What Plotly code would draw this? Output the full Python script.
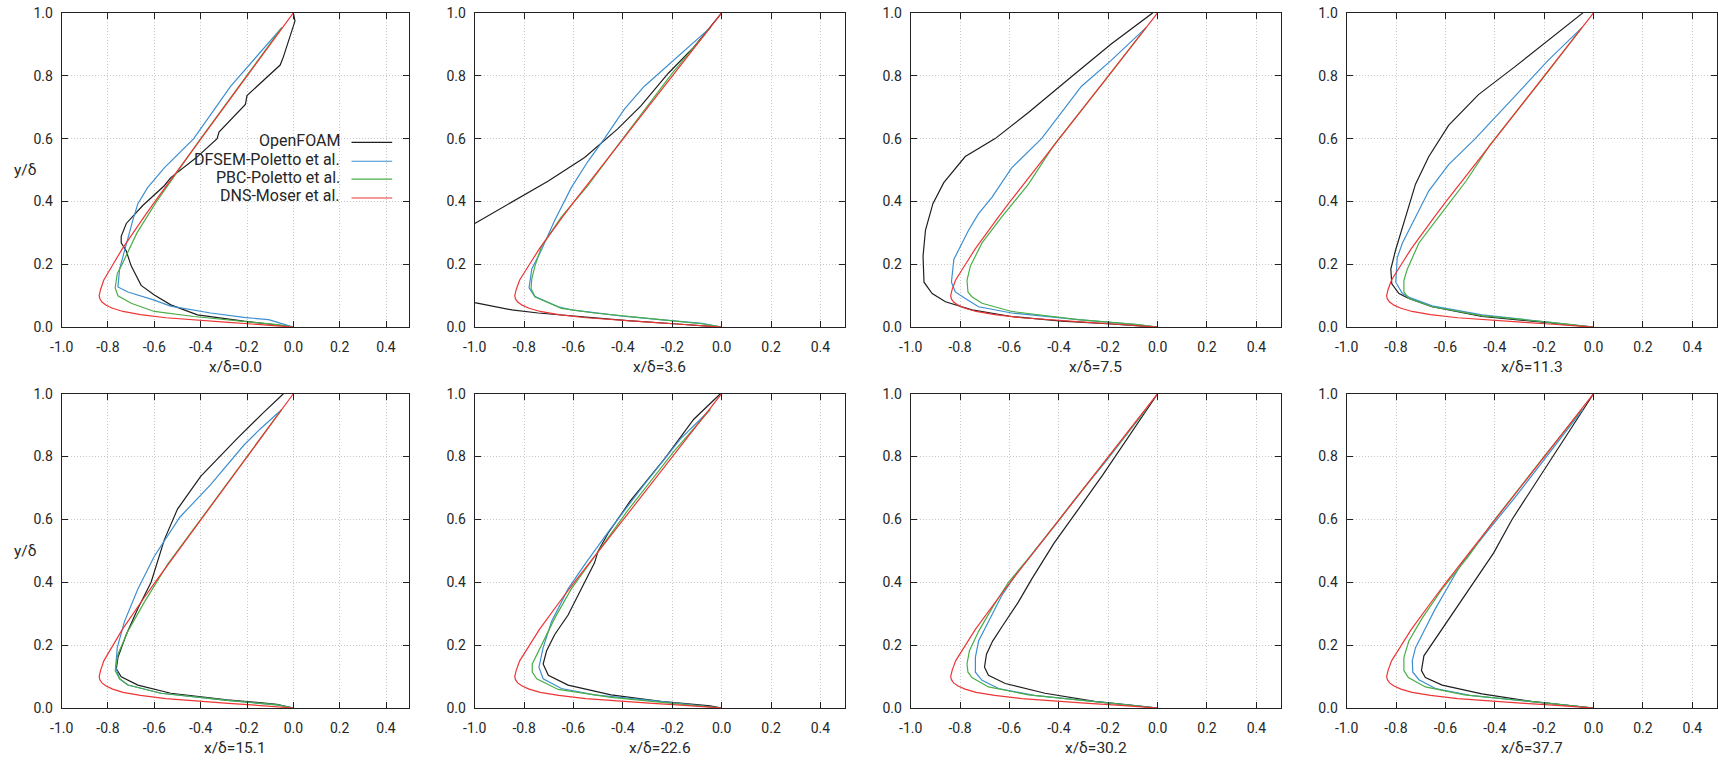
import plotly.graph_objects as go

# ---------------- data ----------------
stations = ["0.0", "3.6", "7.5", "11.3", "15.1", "22.6", "30.2", "37.7"]
series_names = ["OpenFOAM", "DFSEM-Poletto et al.", "PBC-Poletto et al.", "DNS-Moser et al."]
series_colors = ["#1f1f1f", "#3d8fd1", "#4aae46", "#ee3535"]

x_tickvals = [-1.0, -0.8, -0.6, -0.4, -0.2, 0.0, 0.2, 0.4]
x_ticktext = ["-1.0", "-0.8", "-0.6", "-0.4", "-0.2", "0.0", "0.2", "0.4"]
y_tickvals = [0.0, 0.2, 0.4, 0.6, 0.8, 1.0]
y_ticktext = ["0.0", "0.2", "0.4", "0.6", "0.8", "1.0"]

# DNS (same in every panel)
dns_y = [1.0, 0.9, 0.8, 0.7, 0.6, 0.5, 0.4, 0.35, 0.3, 0.25, 0.2, 0.15, 0.12, 0.1, 0.09, 0.08,
         0.07, 0.06, 0.05, 0.04, 0.03, 0.025, 0.02, 0.015, 0.01, 0.006, 0.003, 0.0]
dns_x = [0.0, -0.1, -0.2, -0.3, -0.4, -0.499, -0.597, -0.645, -0.692, -0.738, -0.778, -0.818, -0.832, -0.838, -0.835, -0.826,
         -0.808, -0.78, -0.735, -0.66, -0.55, -0.47, -0.38, -0.28, -0.18, -0.09, -0.03, 0.0]

# x/delta = 0.0
of_00_y = [1.0, 0.974, 0.86, 0.834, 0.737, 0.709, 0.621, 0.6, 0.538, 0.476, 0.45, 0.387, 0.33, 0.289, 0.268,
           0.242, 0.195, 0.164, 0.133, 0.102, 0.071, 0.039, 0.019, 0.003, 0.0]
of_00_x = [0.0, 0.007, -0.043, -0.057, -0.2, -0.207, -0.321, -0.329, -0.421, -0.529, -0.557, -0.65, -0.721, -0.743, -0.743,
           -0.721, -0.7, -0.679, -0.657, -0.6, -0.529, -0.414, -0.214, -0.02, 0.0]
df_00_y = [0.953, 0.766, 0.6, 0.507, 0.444, 0.393, 0.34, 0.268, 0.185, 0.128, 0.112, 0.086, 0.067, 0.045, 0.031, 0.024, 0.003, 0.0]
df_00_x = [-0.05, -0.271, -0.43, -0.557, -0.629, -0.671, -0.693, -0.721, -0.75, -0.757, -0.714, -0.6, -0.53, -0.357, -0.214, -0.107, -0.005, 0.0]
pb_00_y = [0.953, 0.8, 0.6, 0.4, 0.3, 0.205, 0.17, 0.125, 0.1, 0.076, 0.05, 0.034, 0.017, 0.008, 0.0]
pb_00_x = [-0.05, -0.2, -0.4, -0.59, -0.675, -0.736, -0.76, -0.769, -0.757, -0.7, -0.6, -0.43, -0.214, -0.07, 0.0]

# x/delta = 3.6
of_36_y = [1.0, 0.891, 0.808, 0.704, 0.631, 0.54, 0.465, 0.398, 0.33, 0.25, 0.17, 0.078, 0.055, 0.045, 0.034, 0.021, 0.01, 0.0]
of_36_x = [0.0, -0.113, -0.216, -0.327, -0.421, -0.555, -0.702, -0.85, -1.0, -1.2, -1.25, -1.0, -0.85, -0.743, -0.582, -0.381, -0.18, 0.0]
df_36_y = [0.953, 0.87, 0.766, 0.694, 0.6, 0.527, 0.444, 0.34, 0.247, 0.185, 0.125, 0.097, 0.065, 0.055, 0.045, 0.035, 0.024, 0.012, 0.0]
df_36_x = [-0.046, -0.166, -0.314, -0.394, -0.475, -0.542, -0.609, -0.676, -0.729, -0.769, -0.78, -0.756, -0.662, -0.609, -0.51, -0.4, -0.25, -0.08, 0.0]
pb_36_y = [0.953, 0.808, 0.579, 0.45, 0.351, 0.258, 0.195, 0.154, 0.123, 0.097, 0.06, 0.045, 0.024, 0.01, 0.0]
pb_36_x = [-0.046, -0.2, -0.42, -0.542, -0.649, -0.729, -0.756, -0.769, -0.772, -0.756, -0.649, -0.515, -0.247, -0.072, 0.0]

# x/delta = 7.5
of_75_y = [1.0, 0.901, 0.797, 0.683, 0.6, 0.543, 0.46, 0.393, 0.309, 0.226, 0.143, 0.107, 0.081, 0.055, 0.034, 0.019, 0.01, 0.0]
of_75_x = [-0.02, -0.188, -0.349, -0.523, -0.658, -0.779, -0.866, -0.91, -0.94, -0.95, -0.946, -0.913, -0.859, -0.752, -0.591, -0.389, -0.188, 0.0]
df_75_y = [0.953, 0.849, 0.766, 0.683, 0.6, 0.507, 0.413, 0.361, 0.309, 0.247, 0.216, 0.143, 0.112, 0.091, 0.065, 0.045, 0.024, 0.008, 0.0]
df_75_x = [-0.047, -0.188, -0.309, -0.389, -0.47, -0.591, -0.671, -0.725, -0.765, -0.805, -0.825, -0.835, -0.819, -0.779, -0.725, -0.591, -0.322, -0.081, 0.0]
pb_75_y = [0.953, 0.797, 0.579, 0.455, 0.351, 0.268, 0.195, 0.149, 0.112, 0.097, 0.076, 0.05, 0.024, 0.008, 0.0]
pb_75_x = [-0.047, -0.201, -0.42, -0.523, -0.631, -0.711, -0.758, -0.772, -0.768, -0.752, -0.711, -0.591, -0.322, -0.081, 0.0]

# x/delta = 11.3
of_113_y = [1.0, 0.912, 0.829, 0.74, 0.642, 0.543, 0.455, 0.351, 0.247, 0.185, 0.138, 0.107, 0.091, 0.065, 0.034, 0.014, 0.0]
of_113_x = [-0.043, -0.184, -0.318, -0.466, -0.587, -0.667, -0.721, -0.761, -0.801, -0.821, -0.817, -0.788, -0.748, -0.654, -0.452, -0.184, 0.0]
df_113_y = [0.953, 0.849, 0.735, 0.6, 0.517, 0.434, 0.33, 0.268, 0.221, 0.143, 0.107, 0.093, 0.068, 0.039, 0.016, 0.0]
df_113_x = [-0.047, -0.184, -0.318, -0.479, -0.587, -0.667, -0.734, -0.774, -0.795, -0.801, -0.774, -0.741, -0.654, -0.452, -0.184, 0.0]
pb_113_y = [0.953, 0.797, 0.579, 0.465, 0.351, 0.268, 0.185, 0.149, 0.112, 0.091, 0.065, 0.037, 0.016, 0.0]
pb_113_x = [-0.047, -0.2, -0.42, -0.516, -0.627, -0.707, -0.754, -0.768, -0.768, -0.748, -0.654, -0.452, -0.184, 0.0]

# x/delta = 15.1
of_151_y = [1.0, 0.94, 0.857, 0.737, 0.633, 0.535, 0.4, 0.317, 0.234, 0.161, 0.125, 0.099, 0.073, 0.047, 0.026, 0.012, 0.0]
of_151_x = [-0.043, -0.129, -0.243, -0.4, -0.5, -0.557, -0.614, -0.671, -0.721, -0.757, -0.764, -0.743, -0.671, -0.529, -0.286, -0.071, 0.0]
df_151_y = [0.95, 0.888, 0.836, 0.711, 0.607, 0.483, 0.379, 0.275, 0.192, 0.13, 0.093, 0.073, 0.047, 0.024, 0.01, 0.0]
df_151_x = [-0.05, -0.143, -0.214, -0.357, -0.49, -0.6, -0.671, -0.729, -0.76, -0.767, -0.75, -0.714, -0.571, -0.286, -0.071, 0.0]
pb_151_y = [0.95, 0.763, 0.576, 0.457, 0.337, 0.244, 0.171, 0.119, 0.093, 0.073, 0.047, 0.024, 0.01, 0.0]
pb_151_x = [-0.05, -0.237, -0.424, -0.543, -0.643, -0.714, -0.757, -0.769, -0.75, -0.714, -0.571, -0.286, -0.071, 0.0]

# x/delta = 22.6
of_226_y = [1.0, 0.919, 0.794, 0.659, 0.556, 0.5, 0.462, 0.379, 0.296, 0.234, 0.182, 0.14, 0.104, 0.073, 0.042, 0.021, 0.007, 0.0]
of_226_x = [-0.005, -0.113, -0.23, -0.37, -0.46, -0.5, -0.515, -0.568, -0.622, -0.676, -0.709, -0.723, -0.702, -0.622, -0.448, -0.247, -0.046, 0.0]
df_226_y = [0.95, 0.857, 0.711, 0.566, 0.462, 0.379, 0.275, 0.192, 0.13, 0.093, 0.062, 0.042, 0.021, 0.005, 0.0]
df_226_x = [-0.046, -0.166, -0.314, -0.454, -0.55, -0.622, -0.689, -0.723, -0.74, -0.723, -0.649, -0.515, -0.247, -0.04, 0.0]
pb_226_y = [0.95, 0.815, 0.628, 0.483, 0.379, 0.286, 0.182, 0.14, 0.114, 0.093, 0.059, 0.034, 0.015, 0.0]
pb_226_x = [-0.046, -0.195, -0.381, -0.515, -0.609, -0.676, -0.743, -0.767, -0.767, -0.749, -0.662, -0.448, -0.2, 0.0]

# x/delta = 30.2
of_302_y = [1.0, 0.888, 0.8, 0.742, 0.628, 0.524, 0.41, 0.337, 0.265, 0.213, 0.171, 0.13, 0.104, 0.078, 0.047, 0.021, 0.007, 0.0]
of_302_x = [0.0, -0.095, -0.17, -0.222, -0.325, -0.42, -0.51, -0.564, -0.625, -0.668, -0.693, -0.701, -0.685, -0.617, -0.456, -0.255, -0.081, 0.0]
df_302_y = [0.95, 0.794, 0.659, 0.587, 0.504, 0.421, 0.358, 0.275, 0.213, 0.161, 0.114, 0.088, 0.062, 0.04, 0.02, 0.0]
df_302_x = [-0.047, -0.2, -0.34, -0.41, -0.495, -0.577, -0.631, -0.685, -0.725, -0.738, -0.738, -0.711, -0.644, -0.5, -0.25, 0.0]
pb_302_y = [0.95, 0.784, 0.576, 0.493, 0.4, 0.317, 0.244, 0.182, 0.14, 0.114, 0.097, 0.067, 0.042, 0.018, 0.0]
pb_302_x = [-0.047, -0.212, -0.42, -0.505, -0.604, -0.671, -0.725, -0.762, -0.772, -0.768, -0.752, -0.685, -0.523, -0.22, 0.0]

# x/delta = 37.7
of_377_y = [1.0, 0.8, 0.6, 0.493, 0.4, 0.296, 0.223, 0.166, 0.119, 0.097, 0.073, 0.045, 0.021, 0.007, 0.0]
of_377_x = [0.0, -0.165, -0.33, -0.405, -0.486, -0.573, -0.64, -0.687, -0.697, -0.681, -0.613, -0.452, -0.251, -0.07, 0.0]
df_377_y = [0.95, 0.805, 0.67, 0.566, 0.462, 0.389, 0.317, 0.254, 0.192, 0.151, 0.114, 0.09, 0.062, 0.04, 0.02, 0.0]
df_377_x = [-0.043, -0.184, -0.318, -0.426, -0.533, -0.587, -0.64, -0.681, -0.721, -0.734, -0.732, -0.707, -0.64, -0.5, -0.25, 0.0]
pb_377_y = [0.95, 0.81, 0.587, 0.483, 0.379, 0.286, 0.213, 0.161, 0.119, 0.097, 0.067, 0.042, 0.018, 0.0]
pb_377_x = [-0.047, -0.19, -0.413, -0.506, -0.613, -0.694, -0.748, -0.768, -0.768, -0.75, -0.681, -0.523, -0.22, 0.0]

panels = [
    ((of_00_x, of_00_y), (df_00_x, df_00_y), (pb_00_x, pb_00_y)),
    ((of_36_x, of_36_y), (df_36_x, df_36_y), (pb_36_x, pb_36_y)),
    ((of_75_x, of_75_y), (df_75_x, df_75_y), (pb_75_x, pb_75_y)),
    ((of_113_x, of_113_y), (df_113_x, df_113_y), (pb_113_x, pb_113_y)),
    ((of_151_x, of_151_y), (df_151_x, df_151_y), (pb_151_x, pb_151_y)),
    ((of_226_x, of_226_y), (df_226_x, df_226_y), (pb_226_x, pb_226_y)),
    ((of_302_x, of_302_y), (df_302_x, df_302_y), (pb_302_x, pb_302_y)),
    ((of_377_x, of_377_y), (df_377_x, df_377_y), (pb_377_x, pb_377_y)),
]

# ---------------- layout geometry ----------------
W, H = 1718, 763
col_px = [(50, 400), (466, 839), (905, 1278), (1344, 1717)]
row_px = [(5, 326), (394, 715)]
FONT = "Roboto, 'Noto Sans', sans-serif"
TXT = "#262626"
GRID = "#c8c8c8"
TICK_SIZE = 14
TITLE_SIZE = 15.5
LEGEND_SIZE = 16

fig = go.Figure()
layout = dict(width=W, height=H, margin=dict(l=0, r=0, t=0, b=0),
              paper_bgcolor="white", plot_bgcolor="white", showlegend=False,
              font=dict(family=FONT, size=TICK_SIZE, color=TXT))
annotations = []
shapes = []

for i, curves in enumerate(panels):
    r, c = divmod(i, 4)
    n = i + 1
    xs = "" if n == 1 else str(n)
    x0, x1 = col_px[c]
    y0, y1 = row_px[r]
    layout["xaxis" + xs] = dict(
        domain=[x0 / W, x1 / W], anchor="y" + xs, range=[-1.0, 0.5],
        tickvals=x_tickvals, ticktext=x_ticktext, ticks="inside", ticklen=6,
        tickcolor="#222", showline=True, linecolor="#222", linewidth=1, mirror="allticks",
        showgrid=True, gridcolor=GRID, griddash="1px,2px", gridwidth=1, zeroline=False,
        tickfont=dict(size=TICK_SIZE, color=TXT, family=FONT), ticklabelstandoff=7, fixedrange=True)
    layout["yaxis" + xs] = dict(
        domain=[1 - y1 / H, 1 - y0 / H], anchor="x" + xs, range=[0.0, 1.0],
        tickvals=y_tickvals, ticktext=y_ticktext, ticks="inside", ticklen=6,
        tickcolor="#222", showline=True, linecolor="#222", linewidth=1, mirror="allticks",
        showgrid=True, gridcolor=GRID, griddash="1px,2px", gridwidth=1, zeroline=False,
        tickfont=dict(size=TICK_SIZE, color=TXT, family=FONT), ticklabelstandoff=5, fixedrange=True)

    all_curves = list(curves) + [(dns_x, dns_y)]
    for k, (cx, cy) in enumerate(all_curves):
        fig.add_trace(go.Scatter(x=cx, y=cy, mode="lines", name=series_names[k],
                                 line=dict(color=series_colors[k], width=1.2),
                                 xaxis="x" + xs, yaxis="y" + xs, showlegend=False,
                                 hoverinfo="skip"))

    annotations.append(dict(text="x/\u03b4=" + stations[i], xref="x" + xs + " domain",
                            yref="y" + xs + " domain", x=0.5, y=-41 / 321, xanchor="center",
                            yanchor="middle", showarrow=False,
                            font=dict(size=TITLE_SIZE, color=TXT, family=FONT)))
    if c == 0:
        annotations.append(dict(text="y/\u03b4", xref="paper", yref="y" + xs + " domain",
                                x=0, y=0.5, xanchor="left", yanchor="middle", showarrow=False,
                                font=dict(size=TITLE_SIZE, color=TXT, family=FONT)))

# legend (gnuplot style: text right-aligned, sample on the right) in first panel
leg_y = [0.588, 0.528, 0.471, 0.411]
for k, name in enumerate(series_names):
    annotations.append(dict(text=name, xref="x domain", yref="y domain", x=0.806, y=leg_y[k],
                            xanchor="right", yanchor="middle", yshift=2, showarrow=False,
                            font=dict(size=LEGEND_SIZE, color=TXT, family=FONT)))
    shapes.append(dict(type="line", xref="x domain", yref="y domain", x0=0.834, x1=0.951,
                       y0=leg_y[k], y1=leg_y[k], line=dict(color=series_colors[k], width=1.2)))

layout["annotations"] = annotations
layout["shapes"] = shapes
fig.update_layout(**layout)

fig.write_html("out.html", config={"displayModeBar": False},
               post_script="document.body.style.margin='0';document.body.style.overflow='hidden';")
